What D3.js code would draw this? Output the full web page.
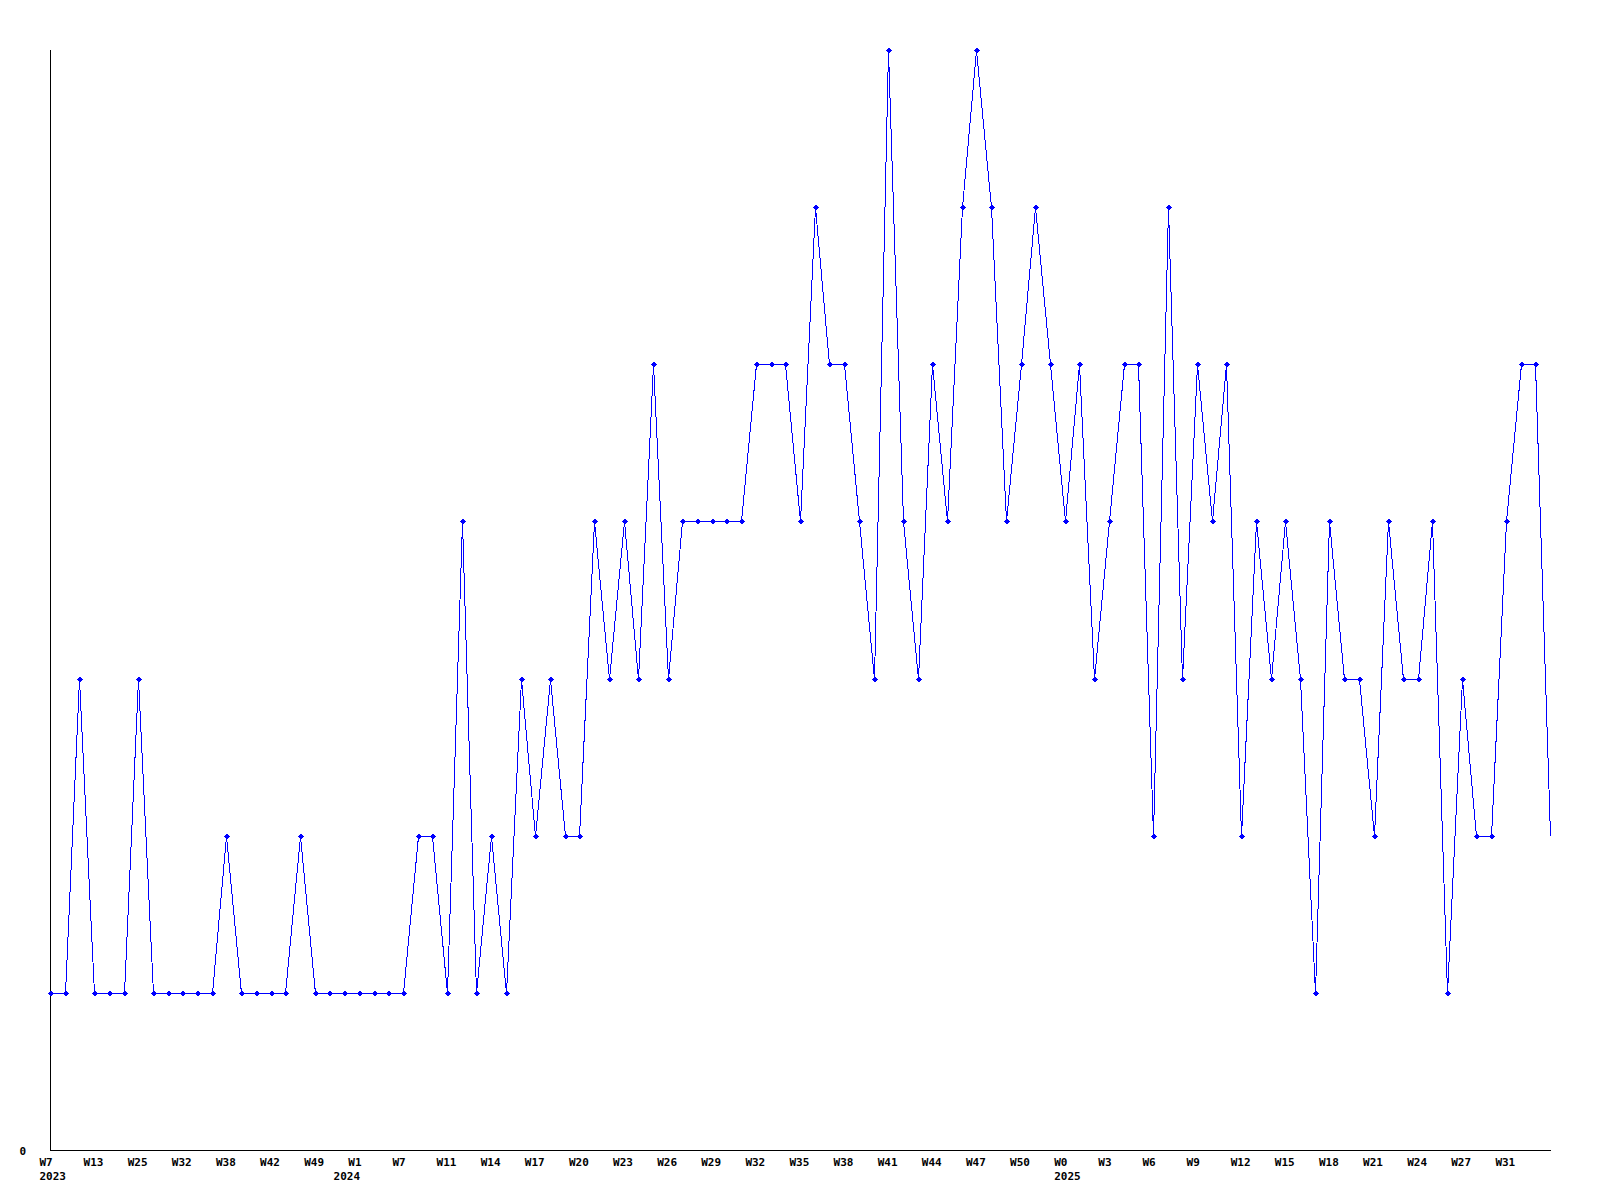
<!DOCTYPE html>
<html>
<head>
<meta charset="utf-8">
<script src="https://cdn.jsdelivr.net/npm/d3@7/dist/d3.min.js"></script>
<style>
  html, body { margin: 0; padding: 0; background: #fff; }
  svg { display: block; }
  text { font-family: "DejaVu Sans Mono", "Liberation Mono", monospace; font-weight: bold; font-size: 11px; fill: #000; }
</style>
</head>
<body>
<script>
// Weekly values, one per data point (103 points)
const values = [
  1, 1, 3, 1, 1, 1, 3, 1, 1, 1,
  1, 1, 2, 1, 1, 1, 1, 2, 1, 1,
  1, 1, 1, 1, 1, 2, 2, 1, 4, 1,
  2, 1, 3, 2, 3, 2, 2, 4, 3, 4,
  3, 5, 3, 4, 4, 4, 4, 4, 5, 5,
  5, 4, 6, 5, 5, 4, 3, 7, 4, 3,
  5, 4, 6, 7, 6, 4, 5, 6, 5, 4,
  5, 3, 4, 5, 5, 2, 6, 3, 5, 4,
  5, 2, 4, 3, 4, 3, 1, 4, 3, 3,
  2, 4, 3, 3, 4, 1, 3, 2, 2, 4,
  5, 5, 2
];
// Tick labels shown every 3rd point
const tickLabels = ["W7","W13","W25","W32","W38","W42","W49","W1","W7","W11","W14","W17",
  "W20","W23","W26","W29","W32","W35","W38","W41","W44","W47","W50","W0","W3","W6","W9",
  "W12","W15","W18","W21","W24","W27","W31"];
const tickStep = 3;
// Year labels and the point index where each appears
const yearIndex = [0, 20, 69];
const yearLabels = ["2023", "2024", "2025"];
const yDomain = [0, 7];
const yTickLabels = ["0"];

const W = 1600, H = 1200;
const mLeft = 50, mRight = 1550, mTop = 50, mBottom = 1150;

const svg = d3.select("body").append("svg").attr("width", W).attr("height", H);
svg.append("rect").attr("width", W).attr("height", H).attr("fill", "#fff");

const idx = d3.range(values.length);
const x = d3.scalePoint().domain(idx).range([mLeft, mRight]);
const y = d3.scaleLinear().domain(yDomain).range([mBottom, mTop]);

// axes lines
svg.append("line").attr("x1", mLeft + 0.5).attr("x2", mLeft + 0.5).attr("y1", mTop).attr("y2", mBottom + 0.5)
  .attr("stroke", "#000").attr("stroke-width", 1).attr("shape-rendering", "crispEdges");
svg.append("line").attr("x1", mLeft).attr("x2", mRight + 1).attr("y1", mBottom + 0.5).attr("y2", mBottom + 0.5)
  .attr("stroke", "#000").attr("stroke-width", 1).attr("shape-rendering", "crispEdges");

// y label
svg.selectAll("text.ylab").data(yTickLabels).enter().append("text")
  .attr("class", "ylab")
  .attr("x", 26).attr("y", (d) => y(+d) + 4.5)
  .attr("text-anchor", "end").text(d => d);

// x tick labels
svg.selectAll("text.xlab").data(tickLabels).enter().append("text")
  .attr("class", "xlab")
  .attr("x", (d, i) => x(i * tickStep) - 10.5)
  .attr("y", 1166)
  .text(d => d);

svg.selectAll("text.year").data(yearLabels).enter().append("text")
  .attr("class", "year")
  .attr("x", (d, i) => x(yearIndex[i]) - 10.5)
  .attr("y", 1180)
  .text(d => d);

// line
const line = d3.line().x(i => Math.round(x(i)) + 0.5).y(i => Math.round(y(values[i])) + 0.5);
svg.append("path").datum(idx).attr("d", line)
  .attr("fill", "none").attr("stroke", "#0000ff").attr("stroke-width", 1)
  .attr("shape-rendering", "crispEdges");

// markers (all but the last point)
const markerIdx = idx.slice(0, -1);
svg.selectAll("path.mk").data(markerIdx).enter().append("path")
  .attr("class", "mk")
  .attr("transform", i => `translate(${Math.round(x(i)) + 0.5},${Math.round(y(values[i])) + 0.5})`)
  .attr("d", "M0,-3 L3,0 L0,3 L-3,0 Z")
  .attr("fill", "#0000ff")
  .attr("shape-rendering", "crispEdges");
</script>
</body>
</html>
